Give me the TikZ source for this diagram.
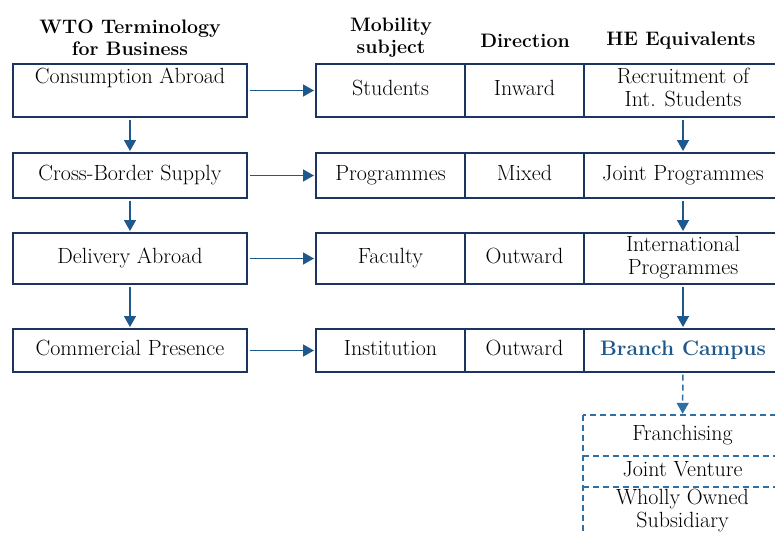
\documentclass[tikz,border=0pt]{standalone}
\usetikzlibrary{arrows.meta,positioning}
\definecolor{navy}{RGB}{28,52,96}
\definecolor{steel}{RGB}{31,88,138}
\definecolor{dashblue}{RGB}{46,112,165}
\tikzset {>={Triangle[length=11pt,width=12pt]}}
\tikzset{
  txt/.style={font=\fontsize{22}{23}\selectfont,
    execute at begin node=\strut,execute at end node=\strut},
  head/.style={font=\fontsize{19.5}{22}\selectfont\bfseries,align=center},
  wtobox/.style={txt,draw=navy,line width=2pt,minimum width=234pt,
    inner sep=0pt,align=center},
  cellbox/.style={txt,draw=navy,line width=2pt,inner sep=0pt,align=center},
  dashbox/.style={txt,minimum width=199pt,inner sep=0pt,align=center},
  dashline/.style={draw=dashblue,line width=1.5pt,dash pattern=on 6pt off 4pt},
  flow/.style={->,draw=steel,line width=1.5pt,shorten <=1.5pt,shorten >=1pt}
}

\begin{document}
\begin{tikzpicture}[x=1pt,y=-1pt]
\useasboundingbox (0,0) rectangle (775,533);
% headers
\node[head] (hwto) at (130,38) {WTO Terminology\\for Business};
\node[head] (hmob) at (391,38) {Mobility\\subject};
\node[head] (hdir) at (525,41) {Direction};
\node[head] (hhe) at (681,41) {HE Equivalents};
% WTO column
\node[wtobox,minimum height=53pt] (ca) at (130,90.5) {Consumption Abroad\\\mbox{}};
\node[wtobox,minimum height=45pt] (cb) at (130,175.5) {Cross-Border Supply};
\node[wtobox,minimum height=51pt] (da) at (130,258.5) {Delivery Abroad};
\node[wtobox,minimum height=43pt] (cp) at (130,350.5) {Commercial Presence};
% table rows
\node[cellbox,minimum width=149pt,minimum height=53pt] (st) at (390.5,90.5) {Students};
\node[cellbox,minimum width=119pt,minimum height=53pt] (in) at (524.5,90.5) {Inward};
\node[cellbox,minimum width=198pt,minimum height=53pt] (ri) at (683,90.5) {Recruitment of\\Int. Students};
\node[cellbox,minimum width=149pt,minimum height=45pt] (pr) at (390.5,175.5) {Programmes};
\node[cellbox,minimum width=119pt,minimum height=45pt] (mx) at (524.5,175.5) {Mixed};
\node[cellbox,minimum width=198pt,minimum height=45pt] (jp) at (683,175.5) {Joint Programmes};
\node[cellbox,minimum width=149pt,minimum height=51pt] (fa) at (390.5,258.5) {Faculty};
\node[cellbox,minimum width=119pt,minimum height=51pt] (ow) at (524.5,258.5) {Outward};
\node[cellbox,minimum width=198pt,minimum height=51pt] (ip) at (683,258.5) {International\\Programmes};
\node[cellbox,minimum width=149pt,minimum height=43pt] (it) at (390.5,350.5) {Institution};
\node[cellbox,minimum width=119pt,minimum height=43pt] (ow2) at (524.5,350.5) {Outward};
\node[cellbox,minimum width=198pt,minimum height=43pt,text=steel,font=\fontsize{21}{23}\selectfont\bfseries] (bc) at (683,350.5) {Branch Campus};
% branch campus forms
\node[dashbox,minimum height=41pt] (fr) at (682.5,435.5) {Franchising};
\node[dashbox,minimum height=31pt] (jv) at (682.5,471.5) {Joint Venture};
\node[dashbox,minimum height=50pt] (wo) at (682.5,512) {Wholly Owned\\Subsidiary};
\draw[dashline] (fr.north west) rectangle (wo.south east);
\draw[dashline] (fr.south west) -- (fr.south east);
\draw[dashline] (jv.south west) -- (jv.south east);
% connectors
\draw[flow] (ca) -- (cb);
\draw[flow] (cb) -- (da);
\draw[flow] (da) -- (cp);
\draw[flow] (ca.east) -- (st.west);
\draw[flow] (cb.east) -- (pr.west);
\draw[flow] (da.east) -- (fa.west);
\draw[flow] (cp.east) -- (it.west);
\draw[flow] (ri) -- (jp);
\draw[flow] (jp) -- (ip);
\draw[flow] (ip) -- (bc);
\draw[flow,dash pattern=on 6pt off 4pt,draw=dashblue] (bc) -- (fr);
\end{tikzpicture}
\end{document}
